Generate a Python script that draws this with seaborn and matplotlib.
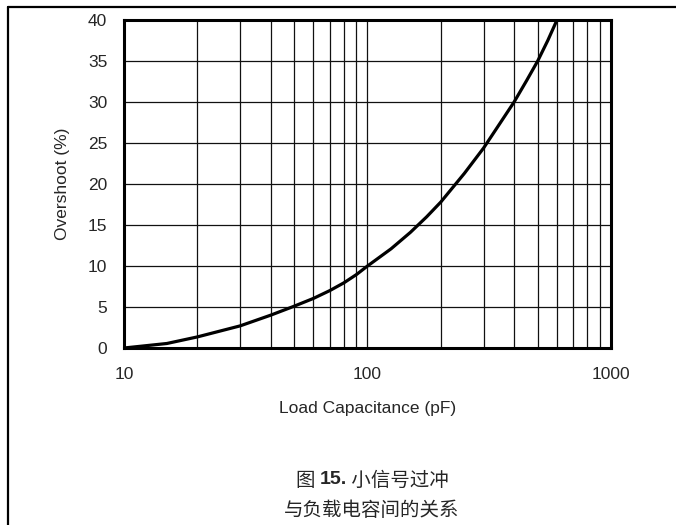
import matplotlib
matplotlib.use("Agg")
import matplotlib.pyplot as plt
import matplotlib.ticker as mticker
from matplotlib.lines import Line2D
import seaborn as sns
import pandas as pd

# Data
capacitance_pf = [10, 15, 20, 30, 40, 50, 60, 70, 80, 90, 100, 125, 150, 175, 200,
                  250, 300, 350, 400, 450, 500, 550, 600]
overshoot_pct = [0.0, 0.55, 1.35, 2.7, 4.0, 5.1, 6.05, 7.0, 7.95, 8.95, 10.0, 12.1, 14.1, 16.0, 17.8,
                 21.3, 24.4, 27.4, 30.0, 32.6, 35.0, 37.5, 40.0]
x_tick_values = [10, 100, 1000]
x_tick_labels = ["10", "100", "1000"]
y_tick_values = [0, 5, 10, 15, 20, 25, 30, 35, 40]
x_label = "Load Capacitance (pF)"
y_label = "Overshoot (%)"
caption_prefix = "图 "
caption_number = "15."
caption_rest = " 小信号过冲"
caption_line2 = "与负载电容间的关系"

sns.set_style("white")
plt.rcParams['font.family'] = ['Liberation Sans', 'Noto Sans CJK SC', 'DejaVu Sans']

df = pd.DataFrame({"C": capacitance_pf, "OS": overshoot_pct})

fig = plt.figure(figsize=(6.76, 5.25), dpi=100)
ax = fig.add_axes([124/676, 1-348/525, (611-124)/676, (348-20)/525])

sns.lineplot(data=df, x="C", y="OS", ax=ax, color="black", lw=2.3, zorder=5)
for ln in ax.get_lines():
    ln.set_solid_joinstyle("round")
    ln.set_solid_capstyle("round")

ax.set_xscale("log")
ax.set_xlim(10, 1000)
ax.set_ylim(0, 40)
ax.xaxis.set_major_locator(mticker.FixedLocator(x_tick_values))
ax.xaxis.set_major_formatter(mticker.FixedFormatter(x_tick_labels))
ax.xaxis.set_minor_locator(mticker.LogLocator(base=10, subs=range(2, 10)))
ax.xaxis.set_minor_formatter(mticker.NullFormatter())
ax.set_yticks(y_tick_values)

ax.grid(which="both", axis="x", color="#111111", lw=0.9)
ax.grid(which="major", axis="y", color="#111111", lw=0.9)
ax.tick_params(which="both", length=0)
ax.tick_params(axis="x", labelsize=12.5, pad=14)
ax.tick_params(axis="y", labelsize=12.5, pad=12)
for s in ax.spines.values():
    s.set_color("black")
    s.set_linewidth(2.2)
    s.set_zorder(6)

ax.set_xlabel(x_label, fontsize=12.5, labelpad=13)
ax.set_ylabel(y_label, fontsize=12.5, labelpad=13)

# Frame lines (left and top borders)
fig.add_artist(Line2D([8/676, 8/676], [0, 1-7/525], color="black", lw=1.6, transform=fig.transFigure))
fig.add_artist(Line2D([8/676, 1], [1-7/525, 1-7/525], color="black", lw=1.6, transform=fig.transFigure))

# Caption
fig.canvas.draw()
renderer = fig.canvas.get_renderer()
cap_y1 = 1 - 480/525
cap_y2 = 1 - 510/525
cx = 372/676
cjk = ['Noto Sans CJK SC', 'DejaVu Sans']
t1 = fig.text(0, cap_y1, caption_prefix, fontsize=14, family=cjk, va="center", ha="left")
t2 = fig.text(0, cap_y1, caption_number, fontsize=14, family=['Liberation Sans'], weight="bold", va="center", ha="left")
t3 = fig.text(0, cap_y1, caption_rest, fontsize=14, family=cjk, va="center", ha="left")
w = [t.get_window_extent(renderer).width / 676 for t in (t1, t2, t3)]
x0 = cx - sum(w) / 2
t1.set_x(x0)
t2.set_x(x0 + w[0])
t3.set_x(x0 + w[0] + w[1])
fig.text(cx, cap_y2, caption_line2, fontsize=14, family=cjk, va="center", ha="center")

fig.savefig("out.png", dpi=100)
